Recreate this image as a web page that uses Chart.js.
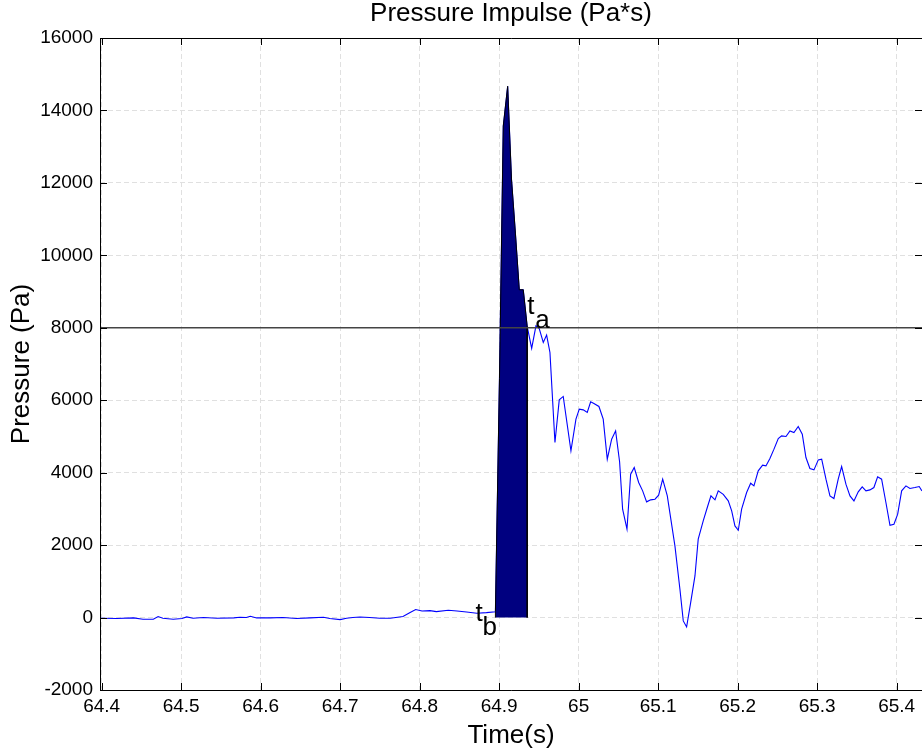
<!DOCTYPE html>
<html>
<head>
<meta charset="utf-8">
<title>Pressure Impulse</title>
<script src="https://cdn.jsdelivr.net/npm/chart.js@4.4.1/dist/chart.umd.min.js"></script>
<style>
  body { margin: 0; background: #fff; }
  canvas { display: block; }
</style>
</head>
<body>
<canvas id="grafico" width="922" height="752"></canvas>
<script>
// tempo (s) e pressao (Pa)
const timeS = [
  64.398, 64.400, 64.419, 64.440, 64.452, 64.465, 64.471, 64.477, 64.490, 64.501,
  64.507, 64.515, 64.528, 64.545, 64.566, 64.574, 64.582, 64.587, 64.595, 64.612,
  64.628, 64.645, 64.662, 64.679, 64.687, 64.700, 64.708, 64.716, 64.725, 64.737,
  64.750, 64.763, 64.779, 64.788, 64.795, 64.803, 64.813, 64.821, 64.836, 64.847,
  64.859, 64.872, 64.884, 64.8953,
  64.9004, 64.9052, 64.9107, 64.9155, 64.9205, 64.9253, 64.9303, 64.9353,
  64.9409, 64.9463, 64.9504, 64.9555, 64.9597, 64.9639, 64.9702, 64.9756, 64.9806, 64.9903,
  64.9966, 65.0008, 65.0058, 65.0108, 65.0151, 65.0192, 65.0255, 65.0309, 65.0360, 65.0415,
  65.0465, 65.0515, 65.0553, 65.0608, 65.0654, 65.0699, 65.0755, 65.0805, 65.0855, 65.0906,
  65.0960, 65.1006, 65.1057, 65.1115, 65.1211, 65.1274, 65.1316, 65.1358, 65.1409, 65.1463,
  65.1504, 65.1567, 65.1618, 65.1664, 65.1715, 65.1756, 65.1819, 65.1882, 65.1925, 65.1966,
  65.2008, 65.2050, 65.2113, 65.2164, 65.2205, 65.2259, 65.2314, 65.2356, 65.2406, 65.2457,
  65.2511, 65.2553, 65.2608, 65.2658, 65.2708, 65.2762, 65.2813, 65.2859, 65.2909, 65.2960,
  65.3014, 65.3057, 65.3111, 65.3161, 65.3211, 65.3265, 65.3308, 65.3362, 65.3413, 65.3463,
  65.3517, 65.3567, 65.3614, 65.3664, 65.3714, 65.3761, 65.3811, 65.3865, 65.3916, 65.3966,
  65.4013, 65.4063, 65.4117, 65.4167, 65.4230, 65.4284, 65.4318
];
const pressurePa = [
  -20, -19, -28, -10, -47, -47, 27, -19, -47, -28,
  17, -19, 0, -19, -10, 8, 0, 36, -10, -10,
  0, -28, -10, 8, -28, -56, -19, 0, 17, 0,
  -19, -19, 27, 137, 220, 183, 192, 165, 202, 183,
  155, 119, 137, 160,
  6600, 13570, 14666, 12106, 10590, 9050, 9050, 8030,
  7430, 8054, 7980, 7595, 7797, 7319, 4833, 6010, 6104, 4602,
  5477, 5753, 5734, 5662, 5955, 5910, 5828, 5477, 4372, 4925,
  5154, 4300, 2991, 2439, 3958, 4142, 3729, 3498, 3194, 3249,
  3268, 3378, 3820, 3359, 1978, 782, -93, -260, 414, 1149,
  2163, 2668, 3038, 3359, 3249, 3498, 3400, 3221, 2945, 2530,
  2411, 2991, 3452, 3709, 3635, 4050, 4206, 4187, 4391, 4649,
  4944, 5016, 4999, 5154, 5110, 5275, 5063, 4419, 4115, 4077,
  4353, 4372, 3820, 3359, 3287, 3820, 4170, 3682, 3359, 3221,
  3470, 3608, 3498, 3525, 3590, 3884, 3820, 3176, 2549, 2577,
  2853, 3498, 3635, 3562, 3590, 3617, 3498
];

// inicio e fim do impulso, e o limiar
const tB = 64.8953;
const tA = 64.9353;
const limiarPa = 8000;

const xMin = 64.3979;
const xMax = 65.4319;
const xTicks = [64.4, 64.5, 64.6, 64.7, 64.8, 64.9, 65.0, 65.1, 65.2, 65.3, 65.4];
const xTickLabels = ["64.4", "64.5", "64.6", "64.7", "64.8", "64.9", "65", "65.1", "65.2", "65.3", "65.4"];
const yTicks = [-2000, 0, 2000, 4000, 6000, 8000, 10000, 12000, 14000, 16000];

const FONTE = "'Liberation Sans', Arial, sans-serif";

const serie = timeS.map((t, i) => ({ x: t, y: pressurePa[i] }));
const impulso = [{ x: tB, y: 0 }]
  .concat(serie.filter((p) => p.x >= tB && p.x <= tA))
  .concat([{ x: tA, y: 0 }]);

// caixa, ticks para dentro e rotulos t_a / t_b
const caixaPlugin = {
  id: "caixa",
  afterDraw(chart) {
    const { ctx, chartArea: a, scales } = chart;
    const xs = scales.x, ys = scales.y;
    ctx.save();
    ctx.strokeStyle = "#000";
    ctx.lineWidth = 1;
    ctx.beginPath();
    ctx.moveTo(a.left + 0.5, a.top + 0.5);
    ctx.lineTo(a.right, a.top + 0.5);
    ctx.moveTo(a.left + 0.5, a.top);
    ctx.lineTo(a.left + 0.5, a.bottom + 0.5);
    ctx.lineTo(a.right, a.bottom + 0.5);
    const tam = 7;
    xTicks.forEach((v) => {
      const px = Math.round(xs.getPixelForValue(v)) + 0.5;
      ctx.moveTo(px, a.bottom);
      ctx.lineTo(px, a.bottom - tam);
      ctx.moveTo(px, a.top);
      ctx.lineTo(px, a.top + tam);
    });
    yTicks.forEach((v) => {
      const py = Math.round(ys.getPixelForValue(v)) + 0.5;
      ctx.moveTo(a.left, py);
      ctx.lineTo(a.left + tam, py);
      ctx.moveTo(a.right, py);
      ctx.lineTo(a.right - tam, py);
    });
    ctx.stroke();

    ctx.fillStyle = "#000";
    ctx.textBaseline = "alphabetic";
    ctx.font = "26px " + FONTE;
    const xa = xs.getPixelForValue(tA), ya = ys.getPixelForValue(limiarPa);
    ctx.fillText("t", xa, ya - 14);
    ctx.fillText("a", xa + 8, ya);
    const xb = xs.getPixelForValue(tB), yb = ys.getPixelForValue(0);
    ctx.fillText("t", xb - 20, yb + 3);
    ctx.fillText("b", xb - 13, yb + 17);
    ctx.restore();
  }
};

const ctx = document.getElementById("grafico").getContext("2d");
new Chart(ctx, {
  type: "line",
  data: {
    datasets: [
      {
        data: [{ x: xMin, y: limiarPa }, { x: xMax, y: limiarPa }],
        borderColor: "#444",
        borderWidth: 1.5,
        pointRadius: 0,
        order: 0
      },
      {
        data: impulso,
        borderColor: "#000",
        borderWidth: 1,
        backgroundColor: "#000080",
        fill: "origin",
        pointRadius: 0,
        tension: 0,
        order: 1
      },
      {
        data: serie,
        borderColor: "#0000ff",
        borderWidth: 1.1,
        pointRadius: 0,
        tension: 0,
        order: 2
      }
    ]
  },
  options: {
    responsive: false,
    animation: false,
    devicePixelRatio: 1,
    layout: { padding: 0 },
    plugins: {
      legend: { display: false },
      tooltip: { enabled: false },
      title: {
        display: true,
        text: "Pressure Impulse (Pa*s)",
        fullSize: false,
        color: "#000",
        font: { family: FONTE, size: 26, weight: "normal", lineHeight: 1 },
        padding: { top: 1, bottom: 11 }
      }
    },
    scales: {
      x: {
        type: "linear",
        min: xMin,
        max: xMax,
        afterBuildTicks: (s) => { s.ticks = xTicks.map((v) => ({ value: v })); },
        afterFit: (s) => { s.height = 62; },
        ticks: {
          color: "#000",
          font: { family: FONTE, size: 19 },
          padding: 5,
          maxRotation: 0,
          autoSkip: false,
          callback: (v, i) => xTickLabels[i]
        },
        grid: { color: "#e0e0e0", lineWidth: 1, drawTicks: false },
        border: { display: false, dash: [5, 3] },
        title: {
          display: true,
          text: "Time(s)",
          color: "#000",
          font: { family: FONTE, size: 26 },
          padding: { top: 0, bottom: 1 }
        }
      },
      y: {
        type: "linear",
        min: -2000,
        max: 16000,
        afterBuildTicks: (s) => { s.ticks = yTicks.map((v) => ({ value: v })); },
        afterFit: (s) => { s.width = 100; },
        ticks: {
          color: "#000",
          font: { family: FONTE, size: 19 },
          padding: 7,
          callback: (v) => String(v)
        },
        grid: { color: "#e0e0e0", lineWidth: 1, drawTicks: false },
        border: { display: false, dash: [5, 3] },
        title: {
          display: true,
          text: "Pressure (Pa)",
          color: "#000",
          font: { family: FONTE, size: 26 },
          padding: { top: 6, bottom: 0 }
        }
      }
    }
  },
  plugins: [caixaPlugin]
});
</script>
</body>
</html>
